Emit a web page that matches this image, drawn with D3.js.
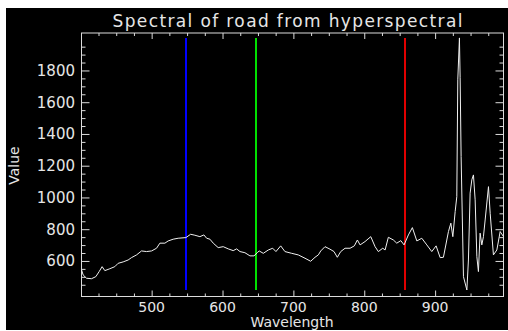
<!DOCTYPE html>
<html>
<head>
<meta charset="utf-8">
<script src="https://cdn.jsdelivr.net/npm/d3@7"></script>
<style>
  body { margin: 0; background: #fff; }
  svg { display: block; }
  text { font-family: "DejaVu Sans", sans-serif; fill: #e6e6e6; }
</style>
</head>
<body>
<div id="chart"></div>
<script>
// spectrum samples (nm, value)
const wavelengths = [401, 403.3, 408.1, 415.1, 421.2, 425.9, 430.1, 433.9, 441.0, 448.0,
  452.7, 459.8, 466.8, 471.6, 478.7, 485.7, 492.8, 499.9, 506.9, 511.6,
  518.7, 523.3, 530.4, 537.4, 548.3, 555.0, 561.0, 568.1, 573.7, 577.6,
  582.2, 586.9, 593.9, 601.0, 608.1, 615.1, 619.9, 624.6, 631.6, 638.7,
  644.4, 649.0, 651.8, 657.5, 664.6, 670.8, 675.4, 682.1, 688.1, 697.6,
  706.9, 716.4, 724.4, 730.5, 735.2, 738.6, 744.6, 751.7, 757.3, 762.0,
  766.8, 772.9, 780.0, 786.0, 790.3, 794.1, 801.1, 809.2, 815.3, 819.9,
  826.1, 829.4, 834.0, 841.1, 845.9, 851.6, 856.2, 862.3, 867.9, 874.2,
  881.2, 888.3, 895.3, 901.4, 907.1, 911.7, 918.8, 922.2, 925.0, 928.3,
  930.6, 932.0, 934.3, 935.3, 936.7, 940.0, 944.8, 947.0, 949.4, 951.8,
  954.1, 956.5, 958.9, 961.1, 963.5, 965.9, 968.2, 970.6, 975.3, 977.7,
  982.3, 987.1, 991.8, 996.5];
const values = [545, 512, 491, 488, 501, 533, 564, 539, 551, 564,
  585, 594, 606, 621, 638, 663, 659, 663, 680, 712,
  712, 726, 737, 743, 747, 768, 762, 753, 764, 743,
  737, 712, 684, 690, 676, 665, 676, 659, 652, 632,
  632, 652, 663, 648, 669, 680, 659, 695, 659, 648,
  638, 617, 598, 623, 638, 663, 690, 674, 659, 623,
  659, 680, 680, 695, 732, 701, 722, 753, 690, 659,
  680, 669, 749, 732, 712, 728, 701, 764, 810, 726,
  743, 701, 659, 695, 621, 623, 785, 838, 753, 911,
  1005, 1741, 2005, 1754, 1258, 501, 417, 606, 1027, 1111,
  1142, 985, 627, 533, 775, 701, 753, 858, 1068, 900,
  638, 669, 785, 753];

// band markers (blue, green, red)
const bands = [548, 647, 857];
const bandColors = ["#0000ff", "#00e000", "#e00000"];

const xTicks = [500, 600, 700, 800, 900];
const yTicks = [600, 800, 1000, 1200, 1400, 1600, 1800];
const xDomain = [401, 996.5];
const yDomain = [376, 2036];

const width = 508, height = 331;
const mLeft = 81.5, mRight = 503.5, mTop = 33, mBottom = 296.5;
const axisColor = "#dcdcdc";

const svg = d3.select("#chart").append("svg")
  .attr("width", width)
  .attr("height", height);

// black plotting window
svg.append("rect")
  .attr("x", 6).attr("y", 8)
  .attr("width", width - 6).attr("height", height - 9)
  .attr("fill", "#000");

const x = d3.scaleLinear().domain(xDomain).range([mLeft, mRight]);
const y = d3.scaleLinear().domain(yDomain).range([mBottom, mTop]);

const minorX = d3.range(425, 1000, 25).filter(d => d % 100 !== 0);
const minorY = d3.range(400, 2036, 50).filter(d => d % 200 !== 0);

function styleAxis(g) {
  g.select(".domain").remove();
  g.selectAll("line").attr("stroke", axisColor);
}

// x ticks bottom / top
svg.append("g").attr("transform", `translate(0,${mBottom})`)
  .call(d3.axisBottom(x).tickValues(xTicks).tickSize(-6).tickFormat(""))
  .call(styleAxis);
svg.append("g").attr("transform", `translate(0,${mBottom})`)
  .call(d3.axisBottom(x).tickValues(minorX).tickSize(-3).tickFormat(""))
  .call(styleAxis);
svg.append("g").attr("transform", `translate(0,${mTop})`)
  .call(d3.axisTop(x).tickValues(xTicks).tickSize(-6).tickFormat(""))
  .call(styleAxis);
svg.append("g").attr("transform", `translate(0,${mTop})`)
  .call(d3.axisTop(x).tickValues(minorX).tickSize(-3).tickFormat(""))
  .call(styleAxis);

// y ticks left / right
svg.append("g").attr("transform", `translate(${mLeft},0)`)
  .call(d3.axisLeft(y).tickValues(yTicks).tickSize(-8).tickFormat(""))
  .call(styleAxis);
svg.append("g").attr("transform", `translate(${mLeft},0)`)
  .call(d3.axisLeft(y).tickValues(minorY).tickSize(-4).tickFormat(""))
  .call(styleAxis);
svg.append("g").attr("transform", `translate(${mRight},0)`)
  .call(d3.axisRight(y).tickValues(yTicks).tickSize(-8).tickFormat(""))
  .call(styleAxis);
svg.append("g").attr("transform", `translate(${mRight},0)`)
  .call(d3.axisRight(y).tickValues(minorY).tickSize(-4).tickFormat(""))
  .call(styleAxis);

// frame
svg.append("rect")
  .attr("x", mLeft).attr("y", mTop)
  .attr("width", mRight - mLeft).attr("height", mBottom - mTop)
  .attr("fill", "none")
  .attr("stroke", axisColor);

// tick labels
svg.append("g").selectAll("text")
  .data(xTicks)
  .join("text")
  .attr("x", d => x(d))
  .attr("y", 312)
  .attr("text-anchor", "middle")
  .attr("font-size", 14)
  .text(d => d);

svg.append("g").selectAll("text")
  .data(yTicks)
  .join("text")
  .attr("x", 75)
  .attr("y", d => y(d) + 5.5)
  .attr("text-anchor", "end")
  .attr("font-size", 15)
  .text(d => d);

// band lines span the data range
const yMin = d3.min(values), yMax = d3.max(values);
svg.append("g").selectAll("line")
  .data(bands)
  .join("line")
  .attr("x1", d => Math.round(x(d)))
  .attr("x2", d => Math.round(x(d)))
  .attr("y1", y(yMin))
  .attr("y2", y(yMax))
  .attr("stroke", (d, i) => bandColors[i])
  .attr("stroke-width", 2);

// spectrum
const line = d3.line()
  .x((d, i) => x(wavelengths[i]))
  .y(d => y(d));

svg.append("path")
  .datum(values)
  .attr("d", line)
  .attr("fill", "none")
  .attr("stroke", "#f0f0f0")
  .attr("stroke-width", 1);

// titles
svg.append("text")
  .attr("x", 287.5)
  .attr("y", 27)
  .attr("text-anchor", "middle")
  .attr("font-size", 17)
  .attr("textLength", 350)
  .text("Spectral of road from hyperspectral");

svg.append("text")
  .attr("x", 292)
  .attr("y", 327)
  .attr("text-anchor", "middle")
  .attr("font-size", 14)
  .text("Wavelength");

svg.append("text")
  .attr("transform", "translate(19,165.5) rotate(-90)")
  .attr("text-anchor", "middle")
  .attr("font-size", 14)
  .text("Value");
</script>
</body>
</html>
